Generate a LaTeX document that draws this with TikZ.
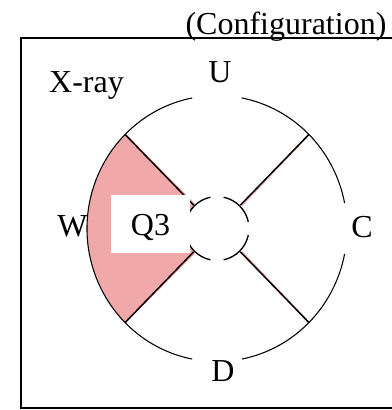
\documentclass[tikz,border=0pt]{standalone}
\usepackage{fontspec}
\setmainfont{Liberation Serif}
\definecolor{pinkfill}{RGB}{240,168,168}
\begin{document}
\begin{tikzpicture}[x=0.75pt,y=-0.75pt,
  lbl/.style={font=\fontsize{24}{28}\selectfont, inner sep=0pt},
  spoke/.style={line width=1.1pt, black},
  spokeshade/.style={line width=1.3pt, pinkfill},
  rim/.style={line width=0.8pt, black},
  hub/.style={line width=1pt, black}]
\useasboundingbox (0,0) rectangle (392,410);
\fill[white] (0,0) rectangle (392,410);
% frame
\coordinate (f1) at (395,38);
\coordinate (f2) at (21,38);
\coordinate (f3) at (21,408);
\coordinate (f4) at (395,408);
\draw[line width=1.2pt] (f1) -- (f2) -- (f3) -- (f4);
% centre
\coordinate (O) at (217,228.5);
% pink sector
\fill[pinkfill] ([shift={(135:32)}]O) -- ([shift={(135:130 and 133)}]O)
  arc[start angle=135, end angle=225, x radius=130, y radius=133]
  -- ([shift={(225:32)}]O)
  arc[start angle=225, end angle=135, radius=32] -- cycle;
% spokes
\foreach \a in {45,135,225,315}{
  \draw[spokeshade] ([shift={(\a:33)}]O) ++(1.5,0) -- ([shift={(\a:130 and 133)}]O) ++(1.5,0);
  \draw[spoke] ([shift={(\a:33)}]O) -- ([shift={(\a:130 and 133)}]O);
}
% outer rim with gaps at U, C, D
\draw[rim] ([shift={(11:130 and 133)}]O) arc[start angle=11, end angle=79, x radius=130, y radius=133];
\draw[rim] ([shift={(101:130 and 133)}]O) arc[start angle=101, end angle=259, x radius=130, y radius=133];
\draw[rim] ([shift={(281:130 and 133)}]O) arc[start angle=281, end angle=349, x radius=130, y radius=133];
% inner hub (broken circle)
\foreach \s in {12,102,192,282}{
  \draw[hub] ([shift={(\s:32)}]O) arc[start angle=\s, end angle=\s+66, radius=32];
}
% Q3 box
\node (q3) [fill=white, inner sep=0pt, minimum width=59.25pt, minimum height=43.5pt,
  font=\fontsize{24}{28}\selectfont, text height=17pt, text depth=0pt] at (150.5,224) {Q3};
% labels
\node[lbl, anchor=base] (cfg) at (286,34.5) {(Configuration)};
\node[lbl, anchor=base] (xray) at (86.5,92) {X-ray};
\node[lbl, anchor=base] (U) at (220,83) {U};
\node[lbl, anchor=base] (D) at (223,381) {D};
\node[lbl, anchor=base] (C) at (362,237) {C};
\node[lbl, anchor=base] (W) at (72.5,236.5) {W};
\end{tikzpicture}
\end{document}
